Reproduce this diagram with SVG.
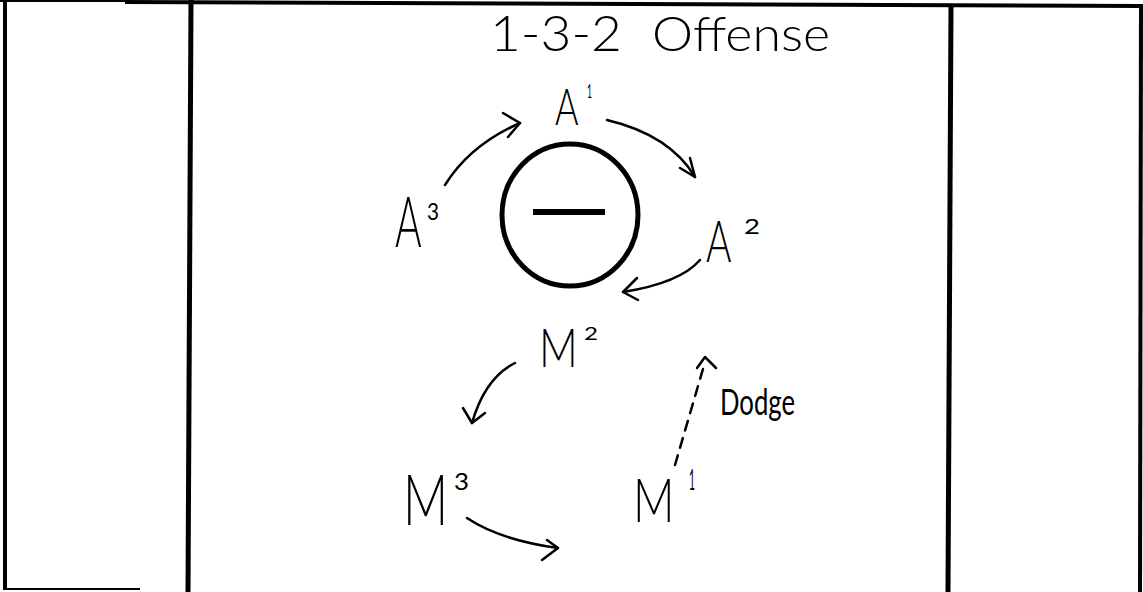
<svg xmlns="http://www.w3.org/2000/svg" width="1143" height="592" viewBox="0 0 1143 592">
  <defs>
    <style>
      .hand { font-family: "Lato", "Liberation Sans", sans-serif; font-weight: 300; fill: #000; }
      .sup { font-family: "Lato", "Liberation Sans", sans-serif; font-weight: 400; fill: #000; }
      .frame { stroke: #000; fill: none; stroke-linecap: butt; }
      .conn { stroke: #000; fill: none; stroke-width: 2.5; stroke-linecap: round; stroke-linejoin: round; }
      .dash { stroke-dasharray: 10 8; }
    </style>
  </defs>
  <rect x="0" y="0" width="1143" height="592" fill="#fff"/>

  <g id="frame">
    <line class="frame" x1="0" y1="1" x2="125" y2="1" stroke-width="2"/>
    <line class="frame" x1="125" y1="2" x2="1143" y2="6" stroke-width="4"/>
    <line class="frame" x1="5" y1="0" x2="5" y2="590" stroke-width="4"/>
    <line class="frame" x1="5" y1="589" x2="140" y2="589" stroke-width="2" stroke="#444"/>
    <line class="frame" x1="191" y1="0" x2="188" y2="592" stroke-width="5"/>
    <line class="frame" x1="951" y1="4" x2="948" y2="592" stroke-width="5"/>
    <line class="frame" x1="1141" y1="5" x2="1140" y2="592" stroke-width="4"/>
  </g>

  <g id="title">
    <text class="hand" x="490" y="51" font-size="50" textLength="132" lengthAdjust="spacingAndGlyphs">1-3-2</text>
    <text class="hand" x="652" y="51" font-size="48" textLength="178" lengthAdjust="spacingAndGlyphs">Offense</text>
  </g>

  <g id="ball">
    <ellipse cx="570" cy="215" rx="68" ry="71" fill="none" stroke="#000" stroke-width="5"/>
    <line x1="533" y1="212" x2="605" y2="212" stroke="#000" stroke-width="6"/>
  </g>

  <g id="A1">
    <text class="hand" transform="translate(555,125) scale(0.69,1)" font-size="52">A</text>
    <text class="sup" x="587" y="98" font-size="20" textLength="5" lengthAdjust="spacingAndGlyphs">1</text>
  </g>
  <g id="A2">
    <text class="hand" transform="translate(706,262) scale(0.67,1)" font-size="58">A</text>
    <text class="sup" x="744" y="234" font-size="22" textLength="16" lengthAdjust="spacingAndGlyphs">2</text>
  </g>
  <g id="A3">
    <text class="hand" transform="translate(395,247) scale(0.58,1)" font-size="70">A</text>
    <text class="sup" x="427" y="220" font-size="24" textLength="12" lengthAdjust="spacingAndGlyphs">3</text>
  </g>
  <g id="M2">
    <text class="hand" transform="translate(539,367) scale(0.79,1)" font-size="54">M</text>
    <text class="sup" x="584" y="340" font-size="18" textLength="14" lengthAdjust="spacingAndGlyphs">2</text>
  </g>
  <g id="M3">
    <text class="hand" transform="translate(403,525) scale(0.71,1)" font-size="70">M</text>
    <text class="sup" x="454" y="490" font-size="23" textLength="15" lengthAdjust="spacingAndGlyphs">3</text>
  </g>
  <g id="M1">
    <text class="hand" transform="translate(633,522) scale(0.75,1)" font-size="61">M</text>
    <text class="sup" x="689" y="490" font-size="28" textLength="6" lengthAdjust="spacingAndGlyphs">1</text>
  </g>
  <g id="dodge-label">
    <text class="sup" x="720" y="415" font-size="36" textLength="75" lengthAdjust="spacingAndGlyphs">Dodge</text>
  </g>

  <g id="connectors">
    <path class="conn" d="M445,185 Q470,145 520,123"/>
    <path class="conn" d="M503,113 L520,123 L508,137"/>
    <path class="conn" d="M607,120 Q670,135 695,177"/>
    <path class="conn" d="M690,158 L695,177 L680,168"/>
    <path class="conn" d="M700,260 Q680,283 623,292"/>
    <path class="conn" d="M637,278 L623,292 L638,300"/>
    <path class="conn" d="M515,363 Q485,378 472,423"/>
    <path class="conn" d="M463,408 L472,423 L485,413"/>
    <path class="conn" d="M467,518 Q500,540 558,548"/>
    <path class="conn" d="M547,540 L558,548 L542,560"/>
    <path class="conn dash" d="M675,465 L705,362"/>
    <path class="conn" d="M697,368 L705,357 L716,368"/>
  </g>
</svg>
